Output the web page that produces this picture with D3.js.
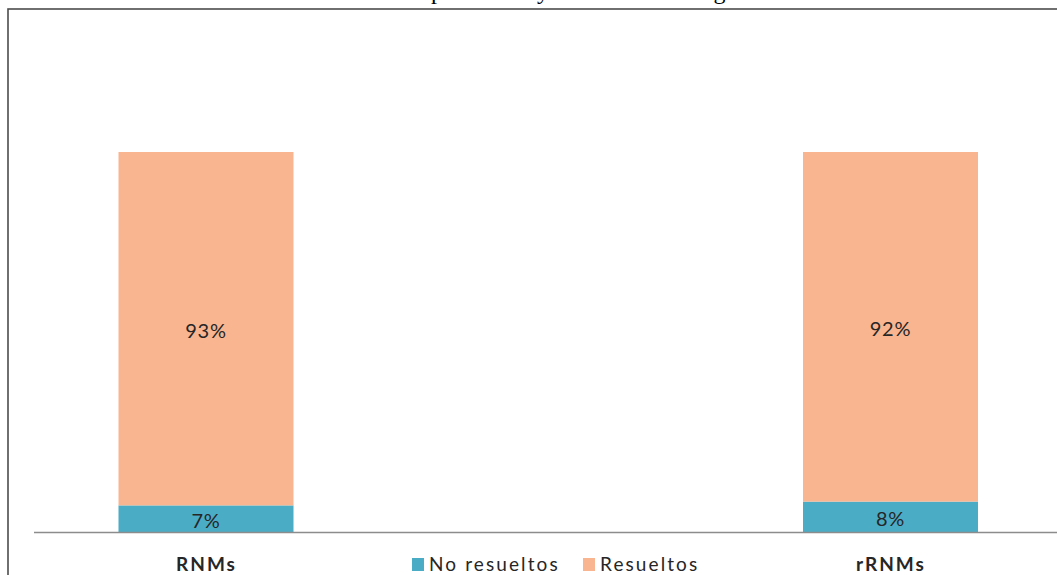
<!DOCTYPE html>
<html>
<head>
<meta charset="utf-8">
<script src="https://cdn.jsdelivr.net/npm/d3@7"></script>
<style>
  html, body { margin: 0; padding: 0; background: #fff; overflow: hidden; }
  svg { display: block; }
</style>
</head>
<body>
<svg id="chart" width="1057" height="575"></svg>
<script>
const categories = ["RNMs", "rRNMs"];
const seriesNames = ["No resueltos", "Resueltos"];
const noResueltos = [7, 8];
const resueltos = [93, 92];
const valueLabels = [["7%", "93%"], ["8%", "92%"]];
const titleText = "Resolución de los problemas y resultados del seguimiento";

const colors = { "No resueltos": "#4BACC6", "Resueltos": "#F9B590" };

const svg = d3.select("#chart");
const W = 1057, H = 575;

// clipped title (only descenders visible above the frame)
const title = svg.append("text")
  .attr("y", -1)
  .style("font-family", "'Liberation Serif', 'Times New Roman', serif")
  .style("font-size", "24px")
  .attr("fill", "#000")
  .text(titleText);
const pIdx = titleText.indexOf("p");
const off = title.node().getSubStringLength(0, pIdx);
title.attr("x", 431 - off);

// frame
svg.append("rect")
  .attr("x", 8).attr("y", 9)
  .attr("width", W).attr("height", H)
  .attr("fill", "#fff")
  .attr("stroke", "#4d4d4d")
  .attr("stroke-width", 1.6);

// scales
const x = d3.scalePoint().domain(categories).range([206, 890.5]);
const y = d3.scaleLinear().domain([0, 100]).range([532, 152]);
const barW = 175;

const data = categories.map((c, i) => ({
  cat: c,
  segs: [
    { name: "No resueltos", y0: 0, y1: noResueltos[i], label: valueLabels[i][0] },
    { name: "Resueltos", y0: noResueltos[i], y1: noResueltos[i] + resueltos[i], label: valueLabels[i][1] }
  ]
}));

const g = svg.append("g");
data.forEach(d => {
  d.segs.forEach(s => {
    g.append("rect")
      .attr("x", x(d.cat) - barW / 2)
      .attr("y", y(s.y1))
      .attr("width", barW)
      .attr("height", y(s.y0) - y(s.y1))
      .attr("fill", colors[s.name]);
    g.append("text")
      .attr("x", x(d.cat))
      .attr("y", (y(s.y0) + y(s.y1)) / 2 + 2)
      .attr("dy", "0.36em")
      .attr("text-anchor", "middle")
      .style("font-family", "Lato, 'Open Sans', sans-serif")
      .style("font-size", "20px")
      .style("letter-spacing", "0.8px")
      .attr("fill", "#262626")
      .text(s.label);
  });
});

// baseline
svg.append("line")
  .attr("x1", 34).attr("x2", W)
  .attr("y1", y(0) + 0.5).attr("y2", y(0) + 0.5)
  .attr("stroke", "#8c8c8c")
  .attr("stroke-width", 1.5);

// category axis labels
const axis = svg.append("g")
  .attr("transform", `translate(0,${y(0)})`)
  .call(d3.axisBottom(x).tickSize(0).tickPadding(0));
axis.select(".domain").remove();
axis.selectAll("text")
  .attr("y", 39)
  .attr("dy", 0)
  .style("font-family", "Lato, 'Open Sans', sans-serif")
  .style("font-size", "19px")
  .style("font-weight", "bold")
  .style("letter-spacing", "2px")
  .attr("fill", "#262626");

// legend
const legendX = [412, 583];
const leg = svg.append("g");
seriesNames.forEach((n, i) => {
  leg.append("rect")
    .attr("x", legendX[i]).attr("y", 558)
    .attr("width", 12).attr("height", 13)
    .attr("fill", colors[n]);
  leg.append("text")
    .attr("x", legendX[i] + 17).attr("y", 571)
    .style("font-family", "Lato, 'Open Sans', sans-serif")
    .style("font-size", "19px")
    .style("letter-spacing", "2.1px")
    .attr("fill", "#262626")
    .text(n);
});
</script>
</body>
</html>
